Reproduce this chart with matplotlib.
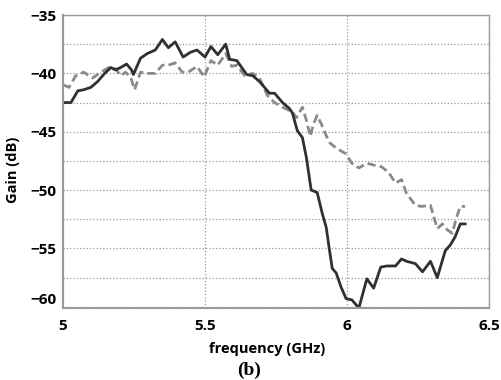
import matplotlib.pyplot as plt
import matplotlib.transforms as mtransforms

# measured gain, solid curve
freq_a = [5.003, 5.028, 5.052, 5.073, 5.098, 5.122, 5.143, 5.168, 5.185, 5.203,
          5.224, 5.241, 5.248, 5.273, 5.297, 5.325, 5.350, 5.371, 5.395, 5.423,
          5.448, 5.472, 5.500, 5.521, 5.545, 5.573, 5.587, 5.612, 5.647, 5.668,
          5.692, 5.727, 5.745, 5.773, 5.797, 5.808, 5.825, 5.843, 5.857, 5.874,
          5.895, 5.913, 5.927, 5.937, 5.948, 5.962, 5.979, 5.997, 6.017, 6.042,
          6.070, 6.094, 6.119, 6.140, 6.171, 6.192, 6.210, 6.241, 6.266, 6.294,
          6.318, 6.346, 6.364, 6.381, 6.399, 6.416]
gain_a = [-42.5, -42.5, -41.5, -41.4, -41.2, -40.7, -40.1, -39.5, -39.7, -39.5,
          -39.2, -39.7, -40.1, -38.7, -38.3, -38.0, -37.1, -37.8, -37.3, -38.6,
          -38.2, -38.0, -38.6, -37.7, -38.4, -37.5, -38.8, -38.9, -40.1, -40.2,
          -40.7, -41.7, -41.7, -42.5, -43.0, -43.4, -44.9, -45.5, -47.2, -50.0,
          -50.2, -52.0, -53.2, -54.9, -56.7, -57.1, -58.3, -59.3, -59.4, -60.1,
          -57.6, -58.4, -56.6, -56.5, -56.5, -55.9, -56.1, -56.3, -57.0, -56.1,
          -57.5, -55.2, -54.7, -54.0, -52.9, -52.9]

# simulated gain, dashed curve
freq_b = [5.003, 5.021, 5.045, 5.073, 5.105, 5.133, 5.161, 5.185, 5.203, 5.220,
          5.238, 5.252, 5.273, 5.301, 5.325, 5.350, 5.371, 5.395, 5.420, 5.441,
          5.472, 5.497, 5.521, 5.545, 5.573, 5.594, 5.612, 5.640, 5.668, 5.692,
          5.720, 5.745, 5.773, 5.808, 5.822, 5.843, 5.857, 5.871, 5.881, 5.895,
          5.909, 5.937, 5.962, 5.997, 6.017, 6.042, 6.070, 6.101, 6.122, 6.147,
          6.171, 6.192, 6.210, 6.241, 6.262, 6.294, 6.318, 6.336, 6.353, 6.371,
          6.385, 6.399, 6.416]
gain_b = [-41.0, -41.2, -40.2, -39.9, -40.4, -39.9, -39.5, -39.6, -40.2, -39.9,
          -40.3, -41.4, -39.9, -40.0, -40.0, -39.3, -39.3, -39.1, -39.9, -39.9,
          -39.4, -40.3, -38.9, -39.3, -38.3, -39.4, -39.3, -40.2, -40.0, -40.4,
          -41.9, -42.5, -42.9, -43.3, -43.8, -42.9, -44.0, -45.4, -44.4, -43.6,
          -44.3, -45.9, -46.4, -46.9, -47.7, -48.1, -47.7, -47.9, -48.0, -48.5,
          -49.4, -49.1, -50.3, -51.3, -51.4, -51.3, -53.3, -52.9, -53.4, -53.7,
          -52.4, -51.4, -51.4]

xticks = [5, 5.5, 6, 6.5]
xticklabels = ['5', '5.5', '6', '6.5']
yticks = [-35, -40, -45, -50, -55, -60]

fig = plt.figure(figsize=(5.02, 3.8), dpi=100)
ax = fig.add_axes([0.1255, 0.1895, 0.8485, 0.771])

ax.plot(freq_b, gain_b, color='#8a8a8a', lw=2.0, ls=(0, (3, 1.5)))
ax.plot(freq_a, gain_a, color='#303030', lw=2.0)

ax.set_xlim(5, 6.5)
ax.set_ylim(-60.1, -35)
ax.set_xticks(xticks)
ax.set_xticklabels(xticklabels)
ax.set_yticks(yticks)
ax.set_yticks([-37.5, -42.5, -47.5, -52.5, -57.5], minor=True)
ax.tick_params(length=0, which='both', labelsize=11)
ax.tick_params(axis='x', pad=8)
ax.tick_params(axis='y', pad=5)
for lab in ax.get_xticklabels() + ax.get_yticklabels():
    lab.set_fontweight('bold')
    lab.set_family('Open Sans')
# the -60 label sits a little above its grid line in the original
ylabs = ax.get_yticklabels()
ylabs[-1].set_transform(ylabs[-1].get_transform() +
                        mtransforms.ScaledTranslation(0, 8 / 100, fig.dpi_scale_trans))

ax.grid(True, which='both', color='#999999', ls=':', lw=0.9)
for s in ax.spines.values():
    s.set_color('#999999')
    s.set_linewidth(1.0)
ax.spines['left'].set_linewidth(1.5)
ax.spines['bottom'].set_linewidth(1.5)

ax.set_xlabel('frequency (GHz)', fontsize=10.5, fontweight='bold', family='Open Sans')
ax.xaxis.set_label_coords(0.48, -0.115)
ax.set_ylabel('Gain (dB)', fontsize=10.5, fontweight='bold', family='Open Sans')
ax.yaxis.set_label_coords(-0.1, 0.47)

fig.text(0.497, 0.026, '(b)', fontsize=14, fontweight='bold',
         family='Liberation Serif', ha='center', va='center')

plt.savefig('out.png', dpi=100)
